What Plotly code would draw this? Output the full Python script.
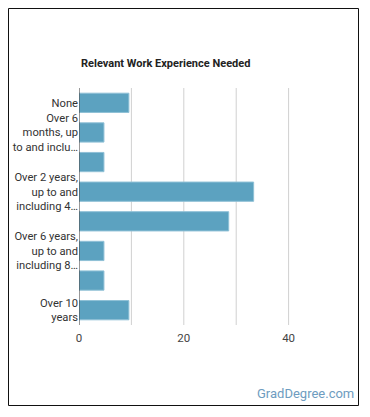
import plotly.graph_objects as go

categories = [
    "None",
    "Over 6 months, up to and including 1 year",
    "Over 1 year, up to and including 2 years",
    "Over 2 years, up to and including 4 years",
    "Over 4 years, up to and including 6 years",
    "Over 6 years, up to and including 8 years",
    "Over 8 years, up to and including 10 years",
    "Over 10 years",
]
values = [9.52, 4.76, 4.76, 33.33, 28.57, 4.76, 4.76, 9.52]
tick_labels = [
    "None",
    "Over 6<br>months, up<br>to and inclu…",
    "",
    "Over 2 years,<br>up to and<br>including 4…",
    "",
    "Over 6 years,<br>up to and<br>including 8…",
    "",
    "Over 10<br>years",
]
x_ticks = [0, 20, 40]

# page body has an 8px margin; figure is placed at (8, 8)
OFF = 8
WIN_W, WIN_H = 370, 417
W, H = WIN_W - OFF, WIN_H - OFF
L, R, T, B = 79, 341, 88, 325  # plot area in window pixels
pw, ph = R - L, B - T

def px(x):
    return (x - L) / pw

def py(y):
    return (B - y) / ph

fig = go.Figure(go.Bar(
    x=values, y=categories, orientation="h",
    marker=dict(color="#5ca2c0", line=dict(color="#8fc0d6", width=1)),
    hoverinfo="x+y",
))

fig.update_layout(
    width=W, height=H,
    margin=dict(l=L - OFF, r=WIN_W - R, t=T - OFF, b=WIN_H - B, pad=0, autoexpand=False),
    paper_bgcolor="white", plot_bgcolor="white",
    font=dict(family="Roboto", size=11, color="#333333"),
    bargap=0.35,
    showlegend=False,
    xaxis=dict(range=[0, 50], tickvals=x_ticks, ticktext=[str(v) for v in x_ticks],
               showgrid=False, zeroline=False, showline=False,
               ticks="outside", ticklen=2, tickcolor="rgba(0,0,0,0)",
               automargin=False,
               tickfont=dict(size=11.5, color="#444444")),
    yaxis=dict(type="category", categoryorder="array", categoryarray=categories,
               autorange="reversed", tickvals=categories, ticktext=tick_labels,
               showgrid=False, zeroline=False, showline=False, ticks="",
               automargin=False,
               tickfont=dict(size=11.2, color="#333333")),
    annotations=[
        dict(text="<b>Relevant Work Experience Needed</b>", xref="paper", yref="paper",
             x=0, y=py(64), xanchor="left", yanchor="middle", showarrow=False,
             font=dict(size=11, color="#222222", family="Roboto")),
        dict(text="GradDegree.com", xref="paper", yref="paper",
             x=px(356), y=py(393), xanchor="right", yanchor="middle", showarrow=False,
             font=dict(size=13, color="#6e9cc0", family="Roboto")),
    ],
)

shapes = []
for g in [10, 20, 30, 40]:
    shapes.append(dict(type="line", xref="x", yref="paper", x0=g, x1=g, y0=0, y1=1,
                       line=dict(color="#d0d0d0", width=1), layer="below"))
shapes.append(dict(type="line", xref="x", yref="paper", x0=0, x1=0, y0=0, y1=1,
                   line=dict(color="#333333", width=1), layer="above"))
shapes.append(dict(type="rect", xref="paper", yref="paper",
                   x0=px(8.5), x1=px(358.5), y0=py(405.5), y1=py(8.5),
                   line=dict(color="#111111", width=1), fillcolor="rgba(0,0,0,0)"))
fig.update_layout(shapes=shapes)

fig.write_html("out.html")
